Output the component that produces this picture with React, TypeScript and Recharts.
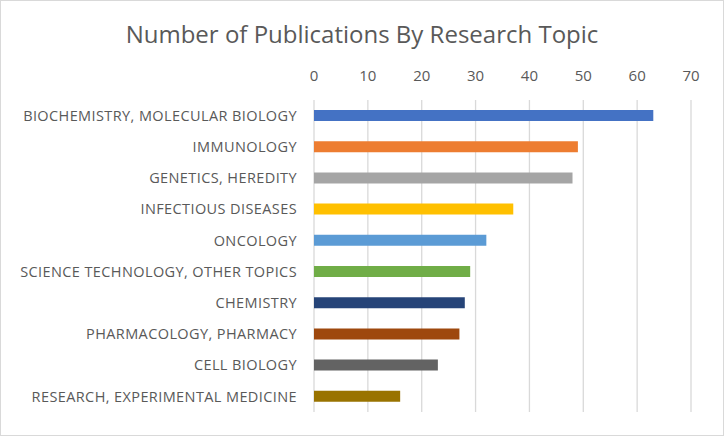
import React from "react";
import { BarChart, Bar, XAxis, YAxis, CartesianGrid, Cell } from "recharts";

// topics, top to bottom
const topics = [
  "BIOCHEMISTRY, MOLECULAR BIOLOGY",
  "IMMUNOLOGY",
  "GENETICS, HEREDITY",
  "INFECTIOUS DISEASES",
  "ONCOLOGY",
  "SCIENCE TECHNOLOGY, OTHER TOPICS",
  "CHEMISTRY",
  "PHARMACOLOGY, PHARMACY",
  "CELL BIOLOGY",
  "RESEARCH, EXPERIMENTAL MEDICINE",
];
const publications = [63, 49, 48, 37, 32, 29, 28, 27, 23, 16];
const xTicks = [0, 10, 20, 30, 40, 50, 60, 70];
const barColors = [
  "#4472C4", "#ED7D31", "#A5A5A5", "#FFC000", "#5B9BD5",
  "#70AD47", "#264478", "#9E480E", "#636363", "#997300",
];

const data = topics.map((topic, i) => ({ topic, value: publications[i] }));

const FONT = "'Open Sans', 'Noto Sans', sans-serif";
const TEXT = "#595959";

export default function App() {
  return (
    <div
      style={{
        position: "absolute",
        left: 0,
        top: 0,
        width: 724,
        height: 436,
        boxSizing: "border-box",
        border: "1px solid #d9d9d9",
        background: "#fff",
        fontFamily: FONT,
      }}
    >
      <div
        style={{
          position: "absolute",
          left: 0,
          right: 0,
          top: 16,
          textAlign: "center",
          fontSize: 24,
          lineHeight: "normal",
          color: TEXT,
        }}
      >
        Number of Publications By Research Topic
      </div>
      <div style={{ position: "absolute", left: -1, top: -1 }}>
        <BarChart
          width={724}
          height={436}
          data={data}
          layout="vertical"
          margin={{ top: 60, right: 33, bottom: 24, left: 0 }}
          barCategoryGap={0}
        >
          <CartesianGrid horizontal={false} stroke="#d9d9d9" strokeWidth={1.3} />
          <XAxis
            type="number"
            orientation="top"
            domain={[0, 70]}
            ticks={xTicks}
            axisLine={false}
            tickLine={false}
            tickSize={0}
            tickMargin={19}
            height={40}
            tick={{ fill: TEXT, fontSize: 15, fontFamily: FONT }}
            interval={0}
          />
          <YAxis
            type="category"
            dataKey="topic"
            width={314}
            axisLine={false}
            tickLine={false}
            tickSize={0}
            tickMargin={17}
            interval={0}
            tick={{ fill: TEXT, fontSize: 14.5, fontFamily: FONT, letterSpacing: 0.4 }}
          />
          <Bar dataKey="value" barSize={11} isAnimationActive={false}>
            {data.map((d, i) => (
              <Cell key={d.topic} fill={barColors[i]} />
            ))}
          </Bar>
        </BarChart>
      </div>
    </div>
  );
}
